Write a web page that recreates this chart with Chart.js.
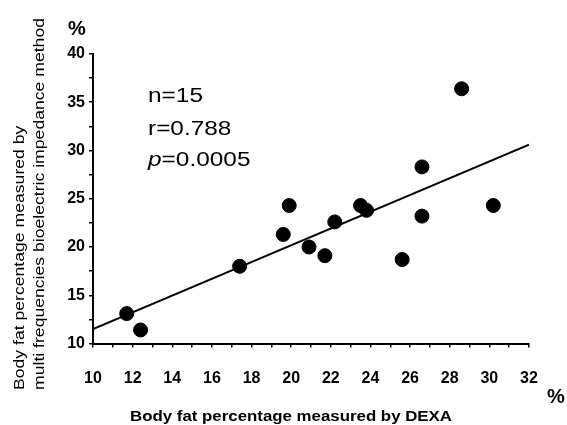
<!DOCTYPE html>
<html lang="en">
<head>
    <meta charset="UTF-8">
    <title>Body fat: DEXA vs bioelectric impedance</title>
    <script src="https://cdn.jsdelivr.net/npm/chart.js"></script>
    <style>
        body { margin: 0; padding: 0; background: #fff; }
        #wrap { width: 567px; height: 425px; }
    </style>
</head>
<body>
    <div id="wrap"><canvas id="scatterChart" width="567" height="425"></canvas></div>

    <script>
        // DEXA (x) vs multi frequency BIA (y)
        const dexaValues = [11.7, 12.4, 17.4, 19.6, 19.9, 20.9, 21.7, 22.2, 23.5, 23.8, 25.6, 26.6, 26.6, 28.6, 30.2];
        const biaValues  = [13.1, 11.4, 18.0, 21.3, 24.3, 20.0, 19.1, 22.6, 24.3, 23.8, 18.7, 23.2, 28.3, 36.4, 24.3];

        // regression line end points
        const fitX = [10, 32];
        const fitY = [11.5, 30.6];

        const statLines = ['n=15', 'r=0.788', '=0.0005'];
        const xTitle = 'Body fat percentage measured by DEXA';
        const yTitleLines = ['Body fat percentage measured by', 'multi frequencies bioelectric impedance method'];

        const FONT = '"Liberation Sans", Arial, sans-serif';

        // the scanned figure uses wide lettering, so text is stretched along its run
        function wideText(ctx, text, x, y, sx) {
            ctx.save();
            ctx.translate(x, y);
            ctx.scale(sx, 1);
            ctx.fillText(text, 0, 0);
            ctx.restore();
        }

        const textPlugin = {
            id: 'textPlugin',
            afterDraw(chart) {
                const ctx = chart.ctx;
                ctx.save();
                ctx.fillStyle = '#000';
                ctx.textBaseline = 'alphabetic';
                ctx.textAlign = 'left';

                // stats block
                const sx = 1.22;
                ctx.font = '20px ' + FONT;
                wideText(ctx, statLines[0], 148, 102, sx);
                wideText(ctx, statLines[1], 148, 135, sx);
                ctx.font = 'italic 20px ' + FONT;
                wideText(ctx, 'p', 148, 166, sx);
                const pw = ctx.measureText('p').width * sx;
                ctx.font = '20px ' + FONT;
                wideText(ctx, statLines[2], 148 + pw, 166, sx);

                // x title
                ctx.font = 'bold 15px ' + FONT;
                const xs = 322 / ctx.measureText(xTitle).width;
                wideText(ctx, xTitle, 130, 421, xs);

                // % signs
                ctx.font = 'bold 20px ' + FONT;
                ctx.textAlign = 'center';
                ctx.fillText('%', 77, 35);
                ctx.fillText('%', 556, 403);

                // y title, rotated
                ctx.textAlign = 'left';
                ctx.font = '15px ' + FONT;
                const ys = 372 / ctx.measureText(yTitleLines[1]).width;
                ctx.translate(0, 390);
                ctx.rotate(-Math.PI / 2);
                wideText(ctx, yTitleLines[0], 0, 24, ys);
                wideText(ctx, yTitleLines[1], 0, 44, ys);
                ctx.restore();
            }
        };

        const ctx = document.getElementById('scatterChart').getContext('2d');
        new Chart(ctx, {
            type: 'scatter',
            data: {
                datasets: [
                    {
                        label: 'Subjects',
                        data: dexaValues.map((x, i) => ({ x: x, y: biaValues[i] })),
                        backgroundColor: '#000',
                        borderColor: '#000',
                        pointRadius: 7,
                        pointHoverRadius: 7
                    },
                    {
                        label: 'Fit',
                        type: 'line',
                        data: fitX.map((x, i) => ({ x: x, y: fitY[i] })),
                        borderColor: '#000',
                        borderWidth: 2,
                        pointRadius: 0,
                        fill: false
                    }
                ]
            },
            options: {
                responsive: false,
                animation: false,
                layout: { padding: { left: 0, top: 54, right: 38, bottom: 0 } },
                plugins: {
                    legend: { display: false },
                    tooltip: { enabled: false }
                },
                scales: {
                    x: {
                        type: 'linear',
                        min: 10,
                        max: 32,
                        border: { display: true, color: '#000', width: 2 },
                        grid: { drawOnChartArea: false, drawTicks: true, tickLength: 4, color: '#000', lineWidth: 1.5 },
                        ticks: {
                            stepSize: 1,
                            autoSkip: false,
                            maxRotation: 0,
                            padding: 21,
                            color: '#000',
                            font: { family: FONT, size: 16, weight: 'bold' },
                            callback: v => (v % 2 === 0 ? v : '')
                        },
                        afterFit: s => { s.height = 81.5; }
                    },
                    y: {
                        type: 'linear',
                        min: 10,
                        max: 40,
                        border: { display: true, color: '#000', width: 2 },
                        grid: { drawOnChartArea: false, drawTicks: true, tickLength: 4, color: '#000', lineWidth: 1.5 },
                        ticks: {
                            stepSize: 2.5,
                            autoSkip: false,
                            padding: 4,
                            color: '#000',
                            font: { family: FONT, size: 16, weight: 'bold' },
                            callback: v => (v % 5 === 0 ? v : '')
                        },
                        afterFit: s => { s.width = 93; }
                    }
                }
            },
            plugins: [textPlugin]
        });
    </script>
</body>
</html>
